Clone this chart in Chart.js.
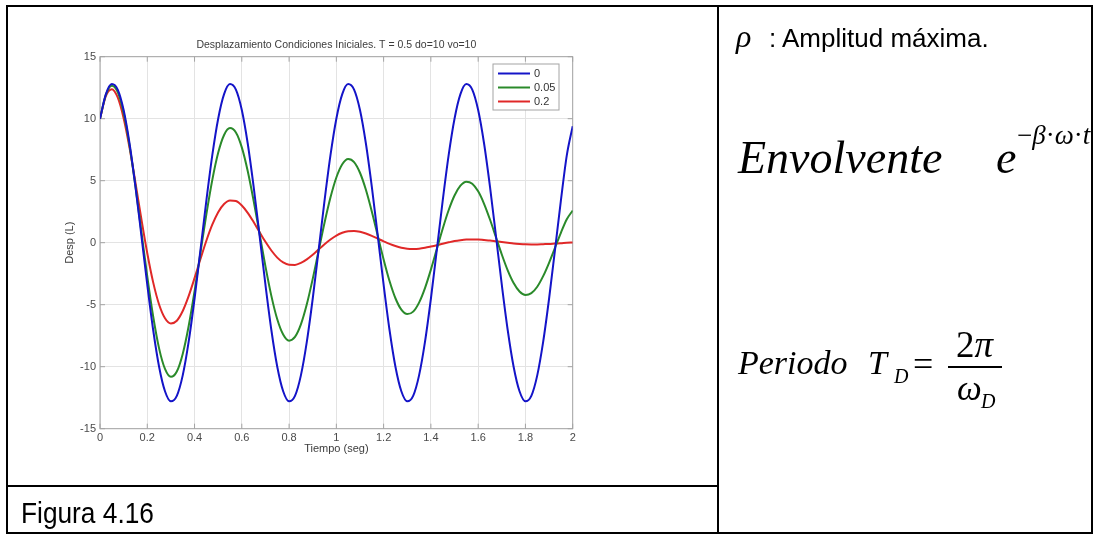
<!DOCTYPE html>
<html>
<head>
<meta charset="utf-8">
<title>Figura 4.16</title>
<script src="https://cdn.jsdelivr.net/npm/chart.js@4.4.1/dist/chart.umd.min.js"></script>
<style>
  html, body { margin: 0; padding: 0; background: #fff; }
  #page { position: relative; width: 1095px; height: 535px; overflow: hidden; }
  .rule { position: absolute; background: #000; }
  #frame { position: absolute; left: 6px; top: 5px; width: 1087px; height: 529px; border: 2px solid #000; box-sizing: border-box; }
  #chartBox { position: absolute; left: 0; top: 0; width: 716px; height: 485px; }
  #right { position: absolute; left: 0; top: 0; width: 1091px; height: 535px; overflow: hidden; }
  .t { position: absolute; white-space: nowrap; line-height: 1; color: #000; }
  .it { font-family: "Liberation Serif", "Times New Roman", serif; font-style: italic; }
  .rm { font-family: "Liberation Serif", "Times New Roman", serif; font-style: normal; }
  .sans { font-family: "Liberation Sans", Arial, sans-serif; }
  .narrow { font-family: "Liberation Sans", Arial, sans-serif; transform: scaleX(0.876); transform-origin: 0 0; }
</style>
</head>
<body>
<div id="page">
  <div id="chartBox"><canvas id="desplazamiento" width="716" height="485"></canvas></div>

  <div id="frame"></div>
  <div class="rule" style="left:717px; top:5px; width:2px; height:529px;"></div>
  <div class="rule" style="left:6px; top:485px; width:712px; height:2px;"></div>

  <div class="t narrow" style="left:21px; top:498px; font-size:30px;">Figura 4.16</div>

  <div id="right">
    <div class="t it" style="left:736px; top:20px; font-size:32px;">&rho;</div>
    <div class="t sans" style="left:769px; top:25px; font-size:26px;">: Amplitud máxima.</div>

    <div class="t it" style="left:738px; top:135px; font-size:46px;">Envolvente</div>
    <div class="t it" style="left:996px; top:135px; font-size:46px;">e</div>
    <div class="t it" style="left:1017px; top:122px; font-size:27px;"><span class="rm">&minus;</span>&beta;<span class="rm">&middot;</span>&omega;<span class="rm">&middot;</span>t</div>

    <div class="t it" style="left:738px; top:346px; font-size:34px;">Periodo</div>
    <div class="t it" style="left:868px; top:346px; font-size:34px;">T</div>
    <div class="t it" style="left:894px; top:366px; font-size:20px;">D</div>
    <div class="t rm" style="left:913px; top:346px; font-size:36px;">=</div>
    <div class="rule" style="left:948px; top:366px; width:54px; height:1.5px;"></div>
    <div class="t rm" style="left:956px; top:326px; font-size:37px;">2<span class="it">&pi;</span></div>
    <div class="t it" style="left:957px; top:371px; font-size:35px;">&omega;</div>
    <div class="t it" style="left:981px; top:391px; font-size:20px;">D</div>
  </div>
</div>

<script>
// Tiempo (seg), muestras cada 0.025 s
const tiempo = [
  0, 0.025, 0.05, 0.075, 0.1, 0.125, 0.15, 0.175, 0.2, 0.225,
  0.25, 0.275, 0.3, 0.325, 0.35, 0.375, 0.4, 0.425, 0.45, 0.475,
  0.5, 0.525, 0.55, 0.575, 0.6, 0.625, 0.65, 0.675, 0.7, 0.725,
  0.75, 0.775, 0.8, 0.825, 0.85, 0.875, 0.9, 0.925, 0.95, 0.975,
  1, 1.025, 1.05, 1.075, 1.1, 1.125, 1.15, 1.175, 1.2, 1.225,
  1.25, 1.275, 1.3, 1.325, 1.35, 1.375, 1.4, 1.425, 1.45, 1.475,
  1.5, 1.525, 1.55, 1.575, 1.6, 1.625, 1.65, 1.675, 1.7, 1.725,
  1.75, 1.775, 1.8, 1.825, 1.85, 1.875, 1.9, 1.925, 1.95, 1.975,
  2
];

// amortiguamiento 0
const desp0 = [
  10, 11.98, 12.79, 12.35, 10.70, 8.00, 4.52, 0.59, -3.39, -7.04,
  -10.00, -11.98, -12.79, -12.35, -10.70, -8.00, -4.52, -0.59, 3.39, 7.04,
  10, 11.98, 12.79, 12.35, 10.70, 8.00, 4.52, 0.59, -3.39, -7.04,
  -10.00, -11.98, -12.79, -12.35, -10.70, -8.00, -4.52, -0.59, 3.39, 7.04,
  10, 11.98, 12.79, 12.35, 10.70, 8.00, 4.52, 0.59, -3.39, -7.04,
  -10.00, -11.98, -12.79, -12.35, -10.70, -8.00, -4.52, -0.59, 3.39, 7.04,
  10, 11.98, 12.79, 12.35, 10.70, 8.00, 4.52, 0.59, -3.39, -7.04,
  -10.00, -11.98, -12.79, -12.35, -10.70, -8.00, -4.52, -0.59, 3.39, 7.04,
  9.4
];

// amortiguamiento 0.05
const desp005 = [
  10.00, 11.94, 12.66, 12.15, 10.48, 7.84, 4.54, 0.90, -2.71, -5.95,
  -8.52, -10.18, -10.82, -10.39, -8.97, -6.74, -3.92, -0.81, 2.28, 5.05,
  7.25, 8.69, 9.24, 8.89, 7.69, 5.78, 3.38, 0.73, -1.91, -4.29,
  -6.18, -7.41, -7.90, -7.60, -6.59, -4.97, -2.92, -0.65, 1.61, 3.64,
  5.26, 6.33, 6.75, 6.50, 5.64, 4.27, 2.52, 0.58, -1.35, -3.09,
  -4.48, -5.40, -5.76, -5.56, -4.83, -3.66, -2.17, -0.52, 1.13, 2.62,
  3.81, 4.60, 4.92, 4.76, 4.14, 3.14, 1.87, 0.46, -0.95, -2.23,
  -3.25, -3.93, -4.21, -4.07, -3.55, -2.70, -1.62, -0.41, 0.80, 1.89,
  2.6
];

// amortiguamiento 0.2
const desp02 = [
  10.00, 11.84, 12.38, 11.71, 10.04, 7.65, 4.84, 1.91, -0.85, -3.20,
  -4.98, -6.09, -6.51, -6.29, -5.51, -4.31, -2.86, -1.32, 0.16, 1.45,
  2.46, 3.12, 3.41, 3.36, 3.00, 2.41, 1.67, 0.86, 0.07, -0.63,
  -1.20, -1.59, -1.78, -1.79, -1.63, -1.34, -0.97, -0.54, -0.12, 0.26,
  0.58, 0.80, 0.93, 0.95, 0.88, 0.74, 0.55, 0.33, 0.11, -0.10,
  -0.27, -0.40, -0.48, -0.50, -0.48, -0.41, -0.31, -0.20, -0.08, 0.03,
  0.13, 0.20, 0.25, 0.26, 0.26, 0.22, 0.18, 0.12, 0.06, 0.00,
  -0.06, -0.10, -0.13, -0.14, -0.14, -0.12, -0.10, -0.07, -0.04, 0.00,
  0.02
];

const nombresSeries = ['0', '0.05', '0.2'];
const coloresSeries = ['#1414c8', '#2a8a2a', '#e02828'];

const xTickLabels = ['0', '0.2', '0.4', '0.6', '0.8', '1', '1.2', '1.4', '1.6', '1.8', '2'];
const yTickLabels = ['-15', '-10', '-5', '0', '5', '10', '15'];

const tituloGrafico = 'Desplazamiento Condiciones Iniciales. T = 0.5 do=10 vo=10';

const fuente = "'Liberation Sans', Arial, sans-serif";
const colorEje = '#a4a4a4';

function puntos(serie) {
    return tiempo.map((t, i) => ({ x: t, y: serie[i] }));
}

// caja de ejes + marcas hacia dentro (estilo MATLAB)
const cajaEjes = {
    id: 'cajaEjes',
    beforeDatasetsDraw(chart) {
        const { ctx, chartArea: a, scales } = chart;
        ctx.save();
        ctx.strokeStyle = colorEje;
        ctx.lineWidth = 1;
        ctx.strokeRect(a.left, a.top, a.right - a.left, a.bottom - a.top);
        const largo = 5;
        ctx.beginPath();
        scales.x.ticks.forEach(tk => {
            const px = scales.x.getPixelForValue(tk.value);
            ctx.moveTo(px, a.bottom); ctx.lineTo(px, a.bottom - largo);
            ctx.moveTo(px, a.top); ctx.lineTo(px, a.top + largo);
        });
        scales.y.ticks.forEach(tk => {
            const py = scales.y.getPixelForValue(tk.value);
            ctx.moveTo(a.left, py); ctx.lineTo(a.left + largo, py);
            ctx.moveTo(a.right, py); ctx.lineTo(a.right - largo, py);
        });
        ctx.stroke();
        ctx.restore();
    }
};

// leyenda con recuadro dentro del area de trazado
const leyendaCaja = {
    id: 'leyendaCaja',
    afterDatasetsDraw(chart) {
        const { ctx, chartArea: a } = chart;
        const ancho = 66, alto = 46;
        const x0 = a.right - 13.7 - ancho;
        const y0 = a.top + 7.3;
        ctx.save();
        ctx.fillStyle = '#ffffff';
        ctx.fillRect(x0, y0, ancho, alto);
        ctx.strokeStyle = colorEje;
        ctx.lineWidth = 1;
        ctx.strokeRect(x0, y0, ancho, alto);
        ctx.font = '11px ' + fuente;
        ctx.textBaseline = 'middle';
        ctx.textAlign = 'left';
        chart.data.datasets.forEach((ds, i) => {
            const y = y0 + 9.5 + i * 14;
            ctx.strokeStyle = ds.borderColor;
            ctx.lineWidth = 2;
            ctx.beginPath();
            ctx.moveTo(x0 + 5, y);
            ctx.lineTo(x0 + 37, y);
            ctx.stroke();
            ctx.fillStyle = '#333333';
            ctx.fillText(ds.label, x0 + 41, y + 0.5);
        });
        ctx.restore();
    }
};

const series = [desp0, desp005, desp02];

const ctx = document.getElementById('desplazamiento').getContext('2d');
new Chart(ctx, {
    type: 'line',
    data: {
        datasets: series.map((s, i) => ({
            label: nombresSeries[i],
            data: puntos(s),
            borderColor: coloresSeries[i],
            backgroundColor: coloresSeries[i],
            borderWidth: 2,
            pointRadius: 0,
            fill: false,
            cubicInterpolationMode: 'monotone'
        }))
    },
    options: {
        responsive: false,
        animation: false,
        devicePixelRatio: 1,
        layout: { padding: { left: 0, top: 0, right: 143.3, bottom: 0 } },
        plugins: {
            legend: { display: false },
            tooltip: { enabled: false },
            title: {
                display: true,
                text: tituloGrafico,
                fullSize: false,
                color: '#3c3c3c',
                font: { family: fuente, size: 10.5, weight: 'normal' },
                padding: { top: 38.7, bottom: 5.4 }
            }
        },
        scales: {
            x: {
                type: 'linear',
                min: 0,
                max: 2,
                afterFit(s) { s.height = 56.3; },
                border: { display: false },
                grid: { color: '#e3e3e3', drawTicks: false },
                ticks: {
                    stepSize: 0.2,
                    padding: 3,
                    autoSkip: false,
                    maxRotation: 0,
                    color: '#4a4a4a',
                    font: { family: fuente, size: 11 },
                    callback: (v, i) => xTickLabels[i]
                },
                title: {
                    display: true,
                    text: 'Tiempo (seg)',
                    color: '#3c3c3c',
                    font: { family: fuente, size: 11 },
                    padding: { top: 0, bottom: 29.4 }
                }
            },
            y: {
                min: -15,
                max: 15,
                afterFit(s) { s.width = 100; },
                border: { display: false },
                grid: { color: '#e3e3e3', drawTicks: false },
                ticks: {
                    stepSize: 5,
                    padding: 4,
                    color: '#4a4a4a',
                    font: { family: fuente, size: 11 },
                    callback: (v, i) => yTickLabels[i]
                },
                title: {
                    display: true,
                    text: 'Desp (L)',
                    color: '#3c3c3c',
                    font: { family: fuente, size: 11 },
                    padding: { top: 63.4, bottom: 0 }
                }
            }
        }
    },
    plugins: [cajaEjes, leyendaCaja]
});
</script>
</body>
</html>
